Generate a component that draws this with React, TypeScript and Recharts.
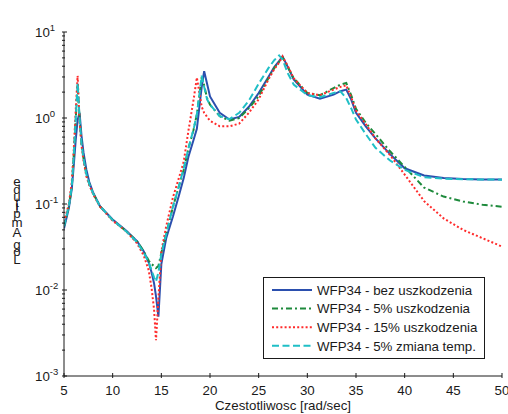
import React from "react";
import { LineChart, Line, XAxis, YAxis, Legend } from "recharts";

// frequency grid [rad/sec]
const freq = [
  5, 5.5, 5.8, 6.0, 6.2, 6.4, 6.6, 6.8, 7.0, 7.3,
  7.6, 8, 8.7, 10, 11.4, 12.5, 13.2, 13.7, 14.0, 14.25,
  14.45, 14.7, 15.0, 15.5, 16.2, 16.8, 17.3, 17.8, 18.3, 18.65,
  19.15, 19.4, 19.7, 20, 21, 22, 23, 24, 25, 26,
  26.6, 27.1, 27.45, 28, 28.6, 30, 31.3, 32.7, 33.4, 34,
  34.5, 35, 36, 37, 38.5, 40, 42, 44, 46, 48, 50,
];

const bezUszkodzenia = [
  0.052, 0.09, 0.15, 0.28, 0.55, 0.95, 1.15, 0.62, 0.4, 0.25,
  0.18, 0.135, 0.094, 0.066, 0.049, 0.037, 0.028, 0.021, 0.016, 0.012,
  0.0085, 0.0049, 0.02, 0.04, 0.072, 0.125, 0.2, 0.36, 0.55, 0.75,
  2.3, 3.5, 2.5, 1.78, 1.15, 0.96, 1.03, 1.35, 1.95, 3.0,
  3.9, 4.6, 5.2, 3.9, 2.8, 1.87, 1.68, 1.87, 2.05, 2.14,
  1.65, 1.15, 0.8, 0.58, 0.38, 0.26, 0.215, 0.2, 0.195, 0.193, 0.193,
];

const uszkodzenie5 = [
  0.055, 0.095, 0.16, 0.36, 0.95, 2.4, 1.0, 0.5, 0.34, 0.22,
  0.17, 0.132, 0.094, 0.065, 0.048, 0.037, 0.028, 0.022, 0.02, 0.019,
  0.018, 0.019, 0.027, 0.045, 0.093, 0.16, 0.25, 0.45, 0.72, 1.1,
  3.0, 2.4, 1.7, 1.43, 1.05, 0.93, 1.0, 1.3, 1.8, 2.9,
  3.8, 4.5, 5.1, 3.9, 2.9, 1.96, 1.84, 2.23, 2.45, 2.55,
  1.85, 1.28, 0.88, 0.65, 0.41, 0.27, 0.155, 0.122, 0.107, 0.098, 0.093,
];

const uszkodzenie15 = [
  0.062, 0.1, 0.18, 0.42, 1.2, 3.1, 0.9, 0.48, 0.32, 0.21,
  0.165, 0.13, 0.093, 0.064, 0.048, 0.035, 0.025, 0.017, 0.0105, 0.006,
  0.0026, 0.008, 0.028, 0.055, 0.12, 0.2, 0.31, 0.73, 1.6, 2.95,
  1.35, 1.15, 1.03, 0.93, 0.8, 0.8, 0.86, 1.15, 1.65, 2.8,
  3.7, 4.4, 5.2, 4.0, 2.9, 1.95, 1.84, 2.14, 2.3, 2.4,
  1.75, 1.22, 0.85, 0.58, 0.37, 0.22, 0.108, 0.068, 0.05, 0.04, 0.032,
];

const zmianaTemp5 = [
  0.055, 0.095, 0.16, 0.36, 0.95, 2.55, 1.0, 0.5, 0.34, 0.22,
  0.17, 0.132, 0.094, 0.065, 0.048, 0.036, 0.027, 0.021, 0.017, 0.014,
  0.0125, 0.016, 0.026, 0.045, 0.093, 0.16, 0.26, 0.45, 0.73, 1.1,
  3.1, 2.3, 1.65, 1.43, 1.05, 0.97, 1.15, 1.6, 2.5, 3.8,
  4.7, 5.35, 4.8, 3.3, 2.45, 1.84, 1.74, 1.96, 2.04, 1.7,
  1.3, 0.96, 0.65, 0.45, 0.32, 0.25, 0.205, 0.197, 0.194, 0.193, 0.192,
];

const xTicks = [5, 10, 15, 20, 25, 30, 35, 40, 45, 50];
const yDecades = [-3, -2, -1, 0, 1];

const title = "WFP pomiedzy masami 3 i 4";
const xLabel = "Czestotliwosc [rad/sec]";
const yLabel = "Log Amplitude";

const series = [
  { key: "bez", name: "WFP34 - bez uszkodzenia", color: "#2b4fae", dash: undefined },
  { key: "u5", name: "WFP34 - 5% uszkodzenia", color: "#1e8a3c", dash: "6 3 2 3" },
  { key: "u15", name: "WFP34 - 15% uszkodzenia", color: "#ff2b2b", dash: "2 2.2" },
  { key: "t5", name: "WFP34 - 5% zmiana temp.", color: "#1fbfc6", dash: "7 3.5" },
];

const data = freq.map((f, i) => ({
  f,
  bez: bezUszkodzenia[i],
  u5: uszkodzenie5[i],
  u15: uszkodzenie15[i],
  t5: zmianaTemp5[i],
}));

// decades plus minor log ticks
const yTicks = [
  ...yDecades.slice(0, -1).flatMap((d) => [1, 2, 3, 4, 5, 6, 7, 8, 9].map((m) => m * Math.pow(10, d))),
  Math.pow(10, yDecades[yDecades.length - 1]),
];

const FONT = '"Liberation Sans", Arial, Helvetica, sans-serif';
const AXIS = "#1a1a1a";
const TEXT = "#1a1a1a";
const FS = 13.3;

const isDecade = (v: number) => Math.abs(Math.log10(v) - Math.round(Math.log10(v))) < 1e-6;

function BottomTick({ x, y, payload }: any) {
  return (
    <g>
      <line x1={x} x2={x} y1={y} y2={y - 5} stroke={AXIS} />
      <text x={x} y={y + 17} textAnchor="middle" fontSize={FS} fontFamily={FONT} fill={TEXT}>
        {payload.value}
      </text>
    </g>
  );
}

function TopTick({ x, y }: any) {
  return <line x1={x} x2={x} y1={y} y2={y + 5} stroke={AXIS} />;
}

function LeftTick({ x, y, payload }: any) {
  const major = isDecade(payload.value);
  const exp = Math.round(Math.log10(payload.value));
  return (
    <g>
      <line x1={x} x2={x + (major ? 5 : 3)} y1={y} y2={y} stroke={AXIS} />
      {major && (
        <text x={x - 27} y={y + 5} fontSize={FS} fontFamily={FONT} fill={TEXT}>
          <tspan>10</tspan>
          <tspan dy={-6} fontSize={9.5}>{exp}</tspan>
        </text>
      )}
    </g>
  );
}

function RightTick({ x, y, payload }: any) {
  const major = isDecade(payload.value);
  return <line x1={x} x2={x - (major ? 5 : 3)} y1={y} y2={y} stroke={AXIS} />;
}

// MATLAB-style label: rotated text with upright glyphs
const advance: Record<string, number> = {
  L: 556, o: 556, g: 556, " ": 278, A: 667, m: 833, p: 556, l: 222, i: 222, t: 278, u: 556, d: 556, e: 556,
};

function YLabel({ viewBox }: any) {
  const cx = viewBox.x + 9;
  let pos = viewBox.y + 231;
  const glyphs: React.ReactNode[] = [];
  yLabel.split("").forEach((ch, i) => {
    const w = ((advance[ch] ?? 556) / 1000) * FS;
    const c = pos - w / 2;
    pos -= w;
    if (ch !== " ") {
      glyphs.push(
        <text key={i} x={cx} y={c} textAnchor="middle" dominantBaseline="central" fontSize={FS} fontFamily={FONT} fill={TEXT}>
          {ch}
        </text>
      );
    }
  });
  return <g>{glyphs}</g>;
}

function TitleLabel({ viewBox }: any) {
  return (
    <text x={viewBox.x + viewBox.width / 2} y={viewBox.y - 12.5} textAnchor="middle" fontSize={FS} fontFamily={FONT} fill={TEXT}>
      {title}
    </text>
  );
}

function XLabel({ viewBox }: any) {
  return (
    <text x={viewBox.x + viewBox.width / 2} y={viewBox.y + 33.5} textAnchor="middle" fontSize={FS} fontFamily={FONT} fill={TEXT}>
      {xLabel}
    </text>
  );
}

function LegendBox() {
  return (
    <svg width={222} height={82} style={{ display: "block" }}>
      <rect x={0.5} y={0.5} width={221} height={81} fill="#fff" stroke={AXIS} />
      {series.map((s, i) => {
        const cy = 13 + i * 18.6;
        return (
          <g key={s.key}>
            <line x1={9} x2={49} y1={cy} y2={cy} stroke={s.color} strokeWidth={2} strokeDasharray={s.dash} />
            <text x={54} y={cy + 4.8} fontSize={FS} fontFamily={FONT} fill={TEXT}>
              {s.name}
            </text>
          </g>
        );
      })}
    </svg>
  );
}

export default function App() {
  return (
    <div style={{ width: 508, height: 414, background: "#fff" }}>
      <style>{"body{margin:0}"}</style>
      <LineChart width={508} height={414} data={data} margin={{ top: 32, right: 6, bottom: 18, left: 8 }}>
        <XAxis
          dataKey="f"
          type="number"
          domain={[5, 50]}
          ticks={xTicks}
          interval={0}
          allowDataOverflow
          height={20}
          tickSize={0}
          tickLine={false}
          axisLine={{ stroke: AXIS }}
          tick={<BottomTick />}
          label={<XLabel />}
        />
        <XAxis
          xAxisId="top"
          orientation="top"
          dataKey="f"
          type="number"
          domain={[5, 50]}
          ticks={xTicks}
          interval={0}
          allowDataOverflow
          height={0}
          tickSize={0}
          tickLine={false}
          axisLine={{ stroke: AXIS }}
          tick={<TopTick />}
          label={<TitleLabel />}
        />
        <YAxis
          type="number"
          scale="log"
          domain={[0.001, 10]}
          ticks={yTicks}
          interval={0}
          allowDataOverflow
          width={56}
          tickSize={0}
          tickLine={false}
          axisLine={{ stroke: AXIS }}
          tick={<LeftTick />}
          label={<YLabel />}
        />
        <YAxis
          yAxisId="right"
          orientation="right"
          type="number"
          scale="log"
          domain={[0.001, 10]}
          ticks={yTicks}
          interval={0}
          allowDataOverflow
          width={0}
          tickSize={0}
          tickLine={false}
          axisLine={{ stroke: AXIS }}
          tick={<RightTick />}
        />
        {series.map((s) => (
          <Line
            key={s.key}
            type="linear"
            dataKey={s.key}
            name={s.name}
            stroke={s.color}
            strokeWidth={2}
            strokeDasharray={s.dash}
            dot={false}
            activeDot={false}
            isAnimationActive={false}
          />
        ))}
        <Legend
          layout="vertical"
          align="center"
          verticalAlign="middle"
          wrapperStyle={{ left: 263, top: 277, width: 222, height: 82 }}
          content={() => <LegendBox />}
        />
      </LineChart>
    </div>
  );
}
